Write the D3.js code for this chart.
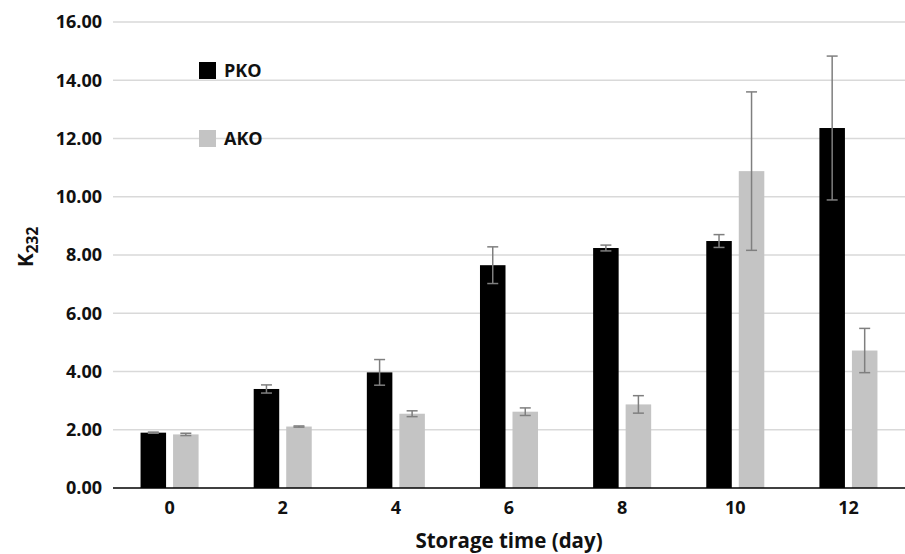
<!DOCTYPE html>
<html>
<head>
<meta charset="utf-8">
<script src="https://cdn.jsdelivr.net/npm/d3@7"></script>
<style>
  body { margin: 0; background: #fff; }
  svg text { font-family: "Open Sans", sans-serif; font-weight: bold; fill: #111; }
</style>
</head>
<body>
<script>
// dati
const days = ["0", "2", "4", "6", "8", "10", "12"];
const pko = [1.90, 3.40, 3.97, 7.65, 8.24, 8.48, 12.36];
const pkoErr = [0.02, 0.14, 0.44, 0.63, 0.10, 0.22, 2.47];
const ako = [1.84, 2.11, 2.55, 2.62, 2.87, 10.88, 4.72];
const akoErr = [0.04, 0.02, 0.10, 0.13, 0.30, 2.72, 0.76];
const yTicks = [0, 2, 4, 6, 8, 10, 12, 14, 16];

const series = [
  { name: "PKO", values: pko, err: pkoErr, color: "#000000" },
  { name: "AKO", values: ako, err: akoErr, color: "#c4c4c4" },
];

const width = 905, height = 554;
const margin = { top: 22, right: 0, bottom: 66, left: 113 };

const svg = d3.select("body")
  .append("svg")
  .attr("width", width)
  .attr("height", height);

const x = d3.scaleBand()
  .domain(days)
  .range([margin.left, width - margin.right])
  .paddingInner(0.487)
  .paddingOuter(0.2435);

const xSub = d3.scaleBand()
  .domain(series.map(s => s.name))
  .range([0, x.bandwidth()])
  .paddingInner(0.215);

const y = d3.scaleLinear()
  .domain([0, 16])
  .range([height - margin.bottom, margin.top]);

// griglia
svg.append("g")
  .selectAll("line")
  .data(yTicks.filter(d => d > 0))
  .join("line")
  .attr("x1", margin.left)
  .attr("x2", width - margin.right)
  .attr("y1", d => y(d))
  .attr("y2", d => y(d))
  .style("stroke", "#d9d9d9")
  .style("stroke-width", 1.5);

// etichette asse y
const yAxis = svg.append("g")
  .attr("transform", `translate(${margin.left},0)`)
  .call(d3.axisLeft(y).tickValues(yTicks).tickFormat(d3.format(".2f")).tickSize(0).tickPadding(11));
yAxis.select(".domain").remove();
yAxis.selectAll("text")
  .style("font-size", "18px")
  .style("font-family", "'Open Sans', sans-serif")
  .style("font-weight", "bold")
  .attr("fill", "#111");

// barre
series.forEach(s => {
  const g = svg.append("g");
  g.selectAll("rect")
    .data(s.values)
    .join("rect")
    .attr("x", (d, i) => x(days[i]) + xSub(s.name))
    .attr("y", d => y(d))
    .attr("width", xSub.bandwidth())
    .attr("height", d => y(0) - y(d))
    .style("fill", s.color);

  // barre di errore
  const cx = i => x(days[i]) + xSub(s.name) + xSub.bandwidth() / 2;
  const eb = g.selectAll(".err")
    .data(s.values.map((v, i) => ({ v, e: s.err[i], i })))
    .join("g")
    .attr("class", "err")
    .style("stroke", "#7f7f7f")
    .style("stroke-width", 1.5);
  eb.append("line")
    .attr("x1", d => cx(d.i)).attr("x2", d => cx(d.i))
    .attr("y1", d => y(d.v + d.e)).attr("y2", d => y(d.v - d.e));
  [1, -1].forEach(sign => {
    eb.append("line")
      .attr("x1", d => cx(d.i) - 5.5).attr("x2", d => cx(d.i) + 5.5)
      .attr("y1", d => y(d.v + sign * d.e)).attr("y2", d => y(d.v + sign * d.e));
  });
});

// asse x
svg.append("line")
  .attr("x1", margin.left)
  .attr("x2", width - margin.right)
  .attr("y1", y(0))
  .attr("y2", y(0))
  .style("stroke", "#000")
  .style("stroke-width", 1.5);

svg.append("g")
  .selectAll("text")
  .data(days)
  .join("text")
  .attr("x", d => x(d) + x.bandwidth() / 2)
  .attr("y", y(0) + 26)
  .attr("text-anchor", "middle")
  .style("font-size", "18px")
  .text(d => d);

svg.append("text")
  .attr("x", x(days[0]) + (x(days[6]) + x.bandwidth() - x(days[0])) / 2)
  .attr("y", 548)
  .attr("text-anchor", "middle")
  .style("font-size", "20.5px")
  .text("Storage time (day)");

// titolo asse y con pedice
const yTitle = svg.append("text")
  .attr("transform", "translate(33,247) rotate(-90)")
  .attr("text-anchor", "middle")
  .style("font-size", "21px");
yTitle.append("tspan").text("K");
yTitle.append("tspan").attr("dy", 5).style("font-size", "15.5px").text("232");

// legenda
const legend = svg.append("g");
series.forEach((s, i) => {
  const ly = 62 + i * 68;
  legend.append("rect")
    .attr("x", 199).attr("y", ly)
    .attr("width", 17).attr("height", 17)
    .style("fill", s.color);
  legend.append("text")
    .attr("x", 224).attr("y", ly + 15)
    .style("font-size", "18px")
    .text(s.name);
});
</script>
</body>
</html>
